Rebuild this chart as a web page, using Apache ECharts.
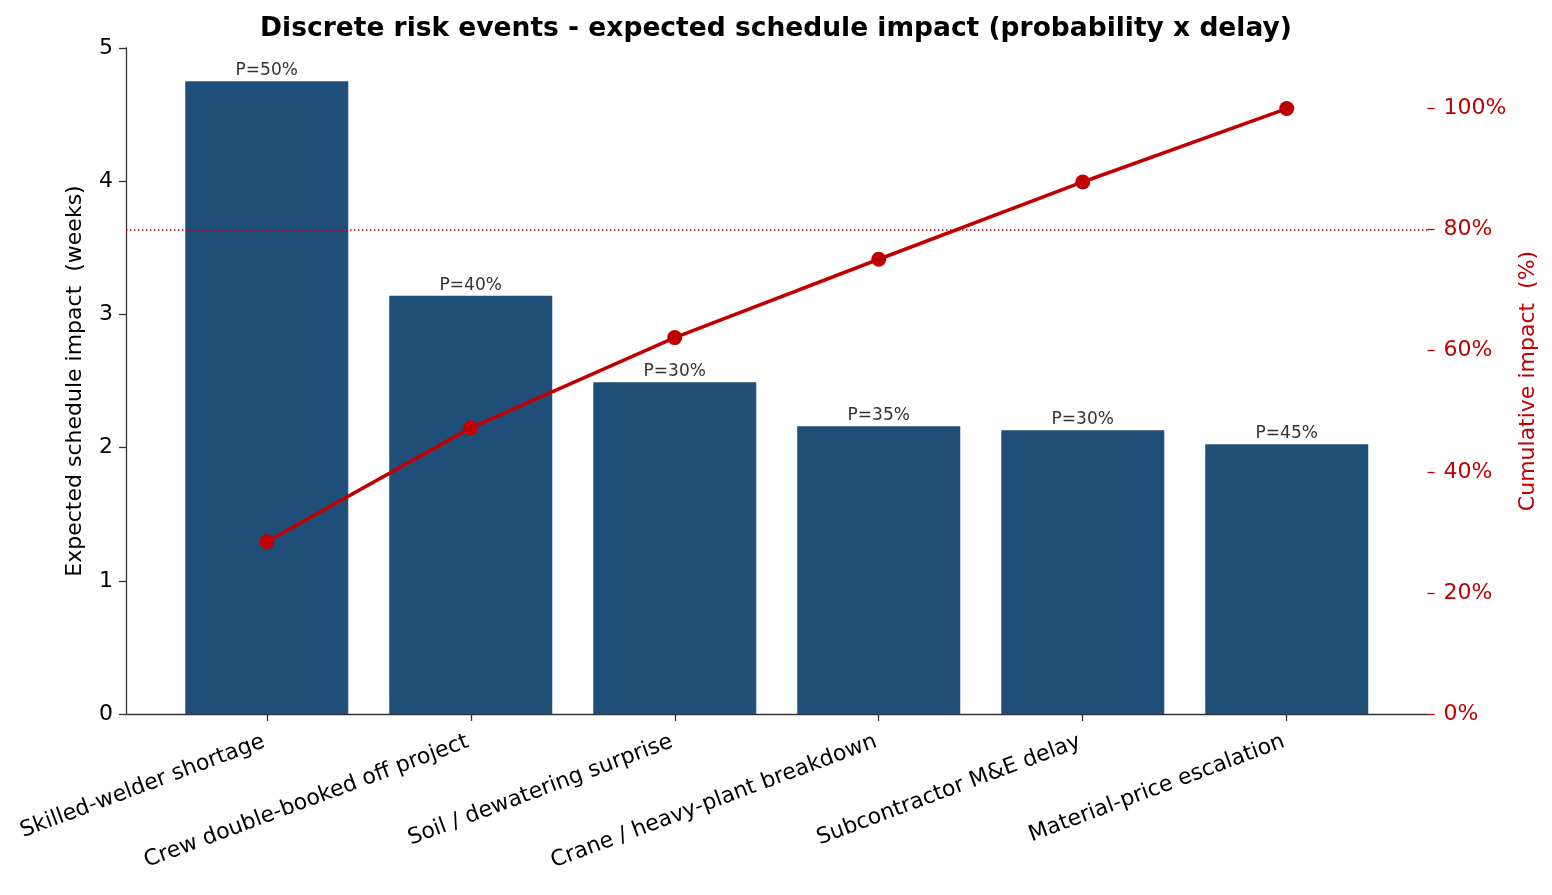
<!DOCTYPE html>
<html>
<head>
<meta charset="utf-8">
<script src="https://cdn.jsdelivr.net/npm/echarts@6/dist/echarts.min.js"></script>
<style>
html,body{margin:0;padding:0;background:#fff;}
#chart{width:1552px;height:895px;}
</style>
</head>
<body>
<div id="chart"></div>
<script>
const categories = ["Skilled-welder shortage","Crew double-booked off project","Soil / dewatering surprise","Crane / heavy-plant breakdown","Subcontractor M&E delay","Material-price escalation"];
const expectedWeeks = [4.75, 3.14, 2.49, 2.16, 2.13, 2.025];
const probabilities = [50, 40, 30, 35, 30, 45];
const cumulativePct = [28.45, 47.26, 62.17, 75.11, 87.87, 100];
const leftTicks = [0, 1, 2, 3, 4, 5];
const rightTicks = [0, 20, 40, 60, 80, 100];
const thresholdPct = 80;

const FONT = 'DejaVu Sans';
const positions = categories.map((c, i) => i);

const chart = echarts.init(document.getElementById('chart'), null, {renderer: 'canvas'});
chart.setOption({
  animation: false,
  backgroundColor: '#ffffff',
  textStyle: {fontFamily: FONT},
  title: {
    text: 'Discrete risk events - expected schedule impact (probability x delay)',
    left: 'center',
    top: 11,
    textStyle: {fontFamily: FONT, fontSize: 26.5, fontWeight: 'bold', color: '#000'}
  },
  grid: {left: 126, right: 124.5, top: 48, bottom: 181, containLabel: false},
  xAxis: {
    type: 'value',
    min: -0.69,
    max: 5.69,
    axisLine: {show: true, onZero: false, lineStyle: {color: '#333', width: 1.3}},
    axisTick: {show: true, customValues: positions, length: 7, lineStyle: {color: '#333', width: 1.3}},
    axisLabel: {
      customValues: positions,
      formatter: v => categories[Math.round(v)] || '',
      rotate: 20.5,
      fontSize: 22,
      color: '#000',
      margin: 26,
      padding: [0, 3, 0, 0],
      fontFamily: FONT
    },
    splitLine: {show: false}
  },
  yAxis: [
    {
      type: 'value',
      min: 0, max: 5, interval: 1,
      name: 'Expected schedule impact  (weeks)',
      nameLocation: 'middle',
      nameRotate: 90,
      nameGap: 40,
      nameTextStyle: {fontSize: 22, color: '#000', fontFamily: FONT},
      axisLine: {show: true, onZero: false, lineStyle: {color: '#333', width: 1.3}},
      axisTick: {show: true, length: 7, lineStyle: {color: '#333', width: 1.3}},
      axisLabel: {fontSize: 22, color: '#000', margin: 13, fontFamily: FONT},
      splitLine: {show: false}
    },
    {
      type: 'value',
      position: 'right',
      min: 0, max: 110,
      name: 'Cumulative impact  (%)',
      nameLocation: 'middle',
      nameRotate: 90,
      nameGap: 87,
      nameTextStyle: {fontSize: 22, color: '#c00000', fontFamily: FONT},
      axisLine: {show: false, onZero: false},
      axisTick: {show: true, customValues: rightTicks, length: 7, lineStyle: {color: '#c00000', width: 1.3}},
      axisLabel: {customValues: rightTicks, formatter: '{value}%', fontSize: 22, color: '#c00000', margin: 16, fontFamily: FONT},
      splitLine: {show: false}
    }
  ],
  series: [
    {
      type: 'bar',
      yAxisIndex: 0,
      barWidth: 163,
      data: expectedWeeks.map((v, i) => [positions[i], v]),
      itemStyle: {color: '#1f4e79'},
      label: {
        show: true,
        position: 'top',
        distance: 2,
        formatter: p => 'P=' + probabilities[p.dataIndex] + '%',
        fontSize: 17,
        color: '#333',
        fontFamily: FONT
      },
      z: 2
    },
    {
      type: 'line',
      yAxisIndex: 1,
      data: cumulativePct.map((v, i) => [positions[i], v]),
      symbol: 'circle',
      symbolSize: 15,
      lineStyle: {color: '#c00000', width: 3.5},
      itemStyle: {color: '#c00000'},
      z: 5,
      markLine: {
        silent: true,
        symbol: 'none',
        label: {show: false},
        lineStyle: {color: '#c00000', type: [1.5, 2.5], width: 1.5},
        emphasis: {disabled: true},
        data: [{yAxis: thresholdPct}]
      }
    }
  ]
});
</script>
</body>
</html>
